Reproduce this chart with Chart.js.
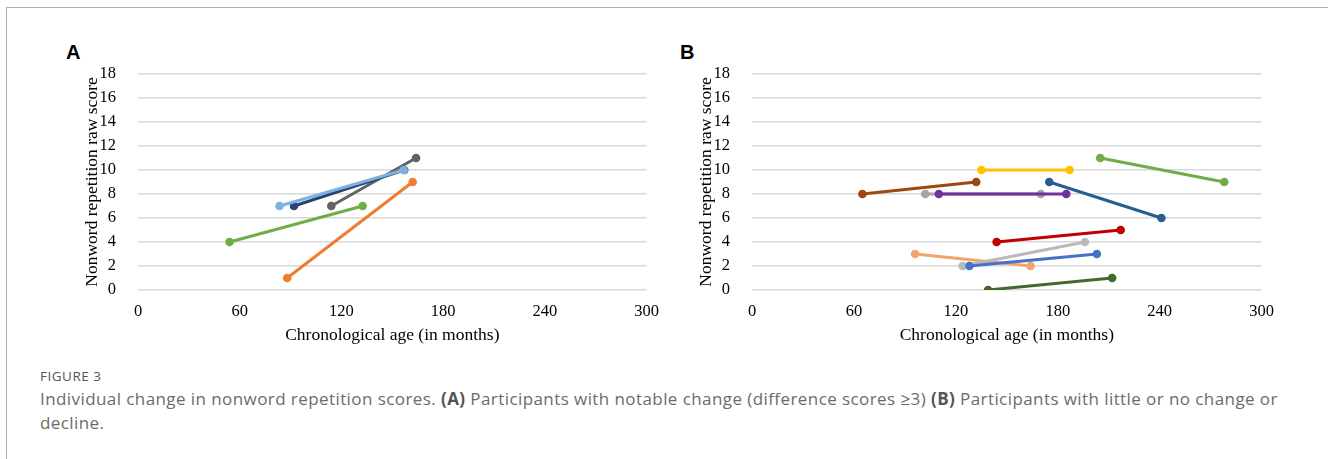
<!DOCTYPE html>
<html>
<head>
<meta charset="utf-8">
<script src="https://cdn.jsdelivr.net/npm/chart.js@4.4.1/dist/chart.umd.min.js"></script>
<style>
  html, body { margin: 0; padding: 0; background: #fff; }
  body { width: 1328px; height: 459px; position: relative; overflow: hidden; }
  #frame { position: absolute; left: 6px; top: 7px; width: 1330px; height: 460px;
           border-top: 1.5px solid #b0b0b0; border-left: 1.5px solid #b0b0b0; }
  .box { position: absolute; top: 31px; height: 320px; }
  .plabel { position: absolute; top: 41px; font: bold 20px "Liberation Sans", Arial, sans-serif; color: #000; }
  #fig { position: absolute; left: 40px; top: 367px; font: 13.5px "Open Sans", sans-serif; color: #555; letter-spacing: 0.5px; }
  #cap { position: absolute; left: 40px; top: 387px; font: 17px/24px "Open Sans", sans-serif; color: #6b6b6b; white-space: nowrap; letter-spacing: 0.42px; }
  #cap b { font-weight: 700; color: #555; }
</style>
</head>
<body>
<div id="frame"></div>
<div class="plabel" style="left:66px">A</div>
<div class="plabel" style="left:680px">B</div>
<div class="box" style="left:0px;width:671px"><canvas id="cA"></canvas></div>
<div class="box" style="left:614px;width:672px"><canvas id="cB"></canvas></div>
<div id="fig">FIGURE 3</div>
<div id="cap">Individual change in nonword repetition scores. <b>(A)</b> Participants with notable change (difference scores ≥3) <b>(B)</b> Participants with little or no change or<br>decline.</div>
<script>
// ---- Data ----
const xTicks = [0, 60, 120, 180, 240, 300];
const yTicks = [0, 2, 4, 6, 8, 10, 12, 14, 16, 18];
const xTitle = "Chronological age (in months)";
const yTitle = "Nonword repetition raw score";

// Panel A: participants with notable change
const aStartAge   = [83.5, 92, 114, 54, 88];
const aEndAge     = [156.7, 157, 164, 132.5, 162];
const aStartScore = [7, 7, 7, 4, 1];
const aEndScore   = [10, 10, 11, 7, 9];
const aColors     = ["#7fb1e0", "#264478", "#636363", "#70ad47", "#ed7d31"];

// Panel B: participants with little or no change or decline
const bStartAge   = [65, 110, 102, 135, 175, 205, 144, 128, 124, 96, 139];
const bEndAge     = [132, 185, 170, 187, 241, 278, 217, 203, 196, 164, 212];
const bStartScore = [8, 8, 8, 10, 9, 11, 4, 2, 2, 3, 0];
const bEndScore   = [9, 8, 8, 10, 6, 9, 5, 3, 4, 2, 1];
const bColors     = ["#9e480e", "#7030a0", "#a5a5a5", "#ffc000", "#255e91", "#70ad47", "#c00000", "#4472c4", "#b9b9b9", "#f4a46a", "#43682b"];

function buildDatasets(s, e, s2, e2, colors) {
  return s.map((_, i) => ({
    data: [{x: s[i], y: s2[i]}, {x: e[i], y: e2[i]}],
    borderColor: colors[i],
    backgroundColor: colors[i],
    showLine: true,
    borderWidth: 3,
    pointRadius: 4.3,
    pointHoverRadius: 4.3,
    pointBorderWidth: 0
  }));
}

const serif = "'Liberation Serif', 'Times New Roman', serif";

function makeOptions() {
  return {
    responsive: true,
    maintainAspectRatio: false,
    animation: false,
    events: [],
    layout: { padding: { left: 70, right: 3, top: 43, bottom: 0 } },
    plugins: { legend: { display: false }, tooltip: { enabled: false } },
    scales: {
      x: {
        type: 'linear', min: 0, max: 300,
        afterBuildTicks: (sc) => { sc.ticks = xTicks.map(v => ({ value: v })); },
        afterFit: (sc) => { sc.height = 61; },
        grid: { display: false, drawTicks: false },
        border: { display: false },
        ticks: { color: '#000', padding: 12, font: { family: serif, size: 16.5 }, maxRotation: 0 },
        title: { display: true, text: xTitle, color: '#000', font: { family: serif, size: 17.5 }, padding: { top: 4, bottom: 5 } }
      },
      y: {
        type: 'linear', min: 0, max: 18,
        afterBuildTicks: (sc) => { sc.ticks = yTicks.map(v => ({ value: v })); },
        afterFit: (sc) => { sc.width = 68; },
        grid: { color: '#d9d9d9', lineWidth: 1.5, drawTicks: false },
        border: { display: false },
        ticks: { color: '#000', padding: 22, font: { family: serif, size: 16.5 } },
        title: { display: true, text: yTitle, color: '#000', font: { family: serif, size: 17.5 }, padding: { top: 12, bottom: 0 } }
      }
    }
  };
}

new Chart(document.getElementById('cA'), {
  type: 'scatter',
  data: { datasets: buildDatasets(aStartAge, aEndAge, aStartScore, aEndScore, aColors) },
  options: makeOptions()
});
new Chart(document.getElementById('cB'), {
  type: 'scatter',
  data: { datasets: buildDatasets(bStartAge, bEndAge, bStartScore, bEndScore, bColors) },
  options: makeOptions()
});
</script>
</body>
</html>
